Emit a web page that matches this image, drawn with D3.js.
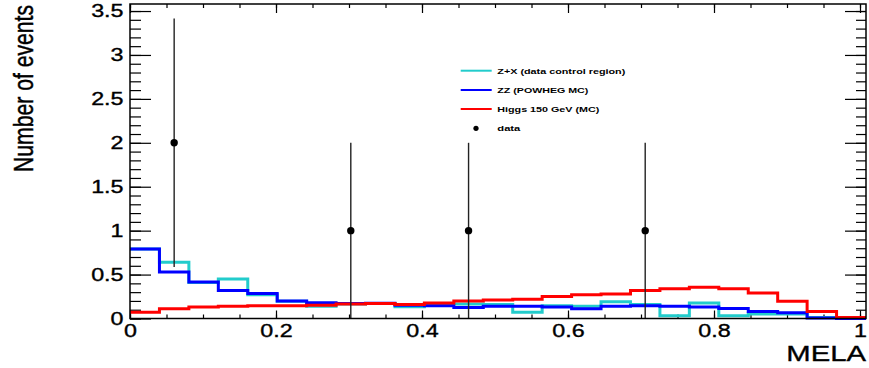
<!DOCTYPE html>
<html lang="en">
    <head>
        <meta charset="UTF-8">
        <title>MELA</title>
        <script src="https://d3js.org/d3.v7.min.js"></script>
        <style>
            body { margin: 0; background: #fff; }
            text { font-family: "Liberation Sans", Arial, sans-serif; fill: #000; }
            .heavy { stroke: #000; stroke-width: 0.35px; }
        </style>
    </head>
    <body>
        <script>
            // histogram bins (low edges, width 0.04)
            const binLow = [0, 0.04, 0.08, 0.12, 0.16, 0.2, 0.24, 0.28, 0.32, 0.36, 0.4, 0.44, 0.48,
                            0.52, 0.56, 0.6, 0.64, 0.68, 0.72, 0.76, 0.8, 0.84, 0.88, 0.92, 0.96];
            const zx = [0.79, 0.64, 0.41, 0.45, 0.27, 0.195, 0.14, 0.165, 0.17, 0.135, 0.17, 0.165, 0.16,
                        0.07, 0.145, 0.14, 0.19, 0.16, 0.03, 0.177, 0.03, 0.05, 0.05, 0.01, 0];
            const zz = [0.79, 0.53, 0.415, 0.32, 0.285, 0.2, 0.18, 0.17, 0.175, 0.15, 0.146, 0.125, 0.14,
                        0.14, 0.13, 0.11, 0.14, 0.145, 0.14, 0.13, 0.115, 0.08, 0.065, 0.005, 0];
            const higgs = [0.07, 0.11, 0.13, 0.14, 0.145, 0.145, 0.15, 0.165, 0.17, 0.16, 0.177, 0.2, 0.21,
                           0.22, 0.25, 0.27, 0.28, 0.32, 0.34, 0.355, 0.34, 0.29, 0.195, 0.08, 0.01];
            const dataX = [0.06, 0.30, 0.46, 0.70];
            const dataY = [2, 1, 1, 1];
            const dataErr = [1.414, 1, 1, 1];
            const xTicks = [0, 0.2, 0.4, 0.6, 0.8, 1];
            const yTicks = [0, 0.5, 1, 1.5, 2, 2.5, 3, 3.5];
            const legendLabels = ['Z+X (data control region)', 'ZZ (POWHEG MC)', 'Higgs 150 GeV (MC)', 'data'];
            const legendColors = ['#22cccc', '#0000ff', '#ff0000', '#000'];

            const w = 869;
            const h = 368;
            const pL = 130, pR = 866, pT = 4, pB = 318.5;
            const stretchK = 1.33;

            const svg = d3.select('body')
                          .append('svg')
                          .attr('width', w)
                          .attr('height', h)

            // text in the picture is stretched sideways
            function stretch(sel, k) {
                sel.each(function() {
                    const len = this.getComputedTextLength();
                    d3.select(this).attr('textLength', len * k).attr('lengthAdjust', 'spacingAndGlyphs')
                })
            }

            const xScale = d3.scaleLinear().domain([0, 1]).range([pL, pR]);
            // axis ticks sit slightly short of the frame end
            const xTickScale = d3.scaleLinear().domain([0, 1]).range([pL, 860]);
            const yScale = d3.scaleLinear().domain([0, 3.58]).range([pB, pT]);

            const minorX = d3.range(0, 21).map(i => i * 0.05);
            const minorY = d3.range(0, 36).map(i => i * 0.1);

            // x axis bottom
            svg.append('g')
               .attr('transform', 'translate(0,' + pB + ')')
               .call(d3.axisBottom(xTickScale).tickValues(minorX).tickSize(-4).tickFormat(''))
            const xAxis = svg.append('g')
                             .attr('transform', 'translate(0,' + pB + ')')
                             .call(d3.axisBottom(xTickScale).tickValues(xTicks).tickSize(-8).tickPadding(6)
                                     .tickFormat(d3.format('~g')))
            xAxis.selectAll('text').style('font-size', '17.5px').attr('class', 'heavy')
            // x axis top
            svg.append('g')
               .attr('transform', 'translate(0,' + pT + ')')
               .call(d3.axisTop(xTickScale).tickValues(minorX).tickSize(-4).tickFormat(''))
            svg.append('g')
               .attr('transform', 'translate(0,' + pT + ')')
               .call(d3.axisTop(xTickScale).tickValues(xTicks).tickSize(-9).tickFormat(''))

            // y axis left
            svg.append('g')
               .attr('transform', 'translate(' + pL + ',0)')
               .call(d3.axisLeft(yScale).tickValues(minorY).tickSize(-11).tickFormat(''))
            const yAxis = svg.append('g')
                             .attr('transform', 'translate(' + pL + ',0)')
                             .call(d3.axisLeft(yScale).tickValues(yTicks).tickSize(-21).tickPadding(6.5)
                                     .tickFormat(d3.format('~g')))
            yAxis.selectAll('text').style('font-size', '17.5px').attr('class', 'heavy')
            // y axis right
            svg.append('g')
               .attr('transform', 'translate(' + pR + ',0)')
               .call(d3.axisRight(yScale).tickValues(minorY).tickSize(-10).tickFormat(''))
            svg.append('g')
               .attr('transform', 'translate(' + pR + ',0)')
               .call(d3.axisRight(yScale).tickValues(yTicks).tickSize(-21).tickFormat(''))

            svg.selectAll('.domain').remove()
            svg.selectAll('.tick line').attr('stroke', '#000').attr('stroke-width', 1.2)
            stretch(svg.selectAll('.tick text'), stretchK)

            // histograms
            const step = d3.line()
                           .x(d => xScale(d[0]))
                           .y(d => yScale(d[1]))
                           .curve(d3.curveStepAfter)
            const hists = [[zx, legendColors[0]], [zz, legendColors[1]], [higgs, legendColors[2]]];
            hists.forEach(([vals, col]) => {
                const pts = binLow.map((x, i) => [x, vals[i]]);
                pts.push([1, vals[vals.length - 1]]);
                svg.append('path')
                   .attr('d', step(pts))
                   .attr('fill', 'none')
                   .attr('stroke', col)
                   .attr('stroke-width', 3)
            })

            // data points with error bars
            svg.selectAll('.err')
               .data(dataX)
               .enter()
               .append('line')
               .attr('x1', d => xScale(d))
               .attr('x2', d => xScale(d))
               .attr('y1', (d, i) => yScale(dataY[i] - dataErr[i]))
               .attr('y2', (d, i) => yScale(dataY[i] + dataErr[i]))
               .attr('stroke', '#222')
               .attr('stroke-width', 1.4)
            svg.selectAll('.pt')
               .data(dataX)
               .enter()
               .append('circle')
               .attr('cx', d => xScale(d))
               .attr('cy', (d, i) => yScale(dataY[i]))
               .attr('r', 3.7)
               .attr('fill', '#000')

            // frame
            svg.append('rect')
               .attr('x', pL)
               .attr('y', pT)
               .attr('width', pR - pL)
               .attr('height', pB - pT)
               .attr('fill', 'none')
               .attr('stroke', '#000')
               .attr('stroke-width', 1.5)

            // axis titles
            const mela = svg.append('text')
                            .attr('class', 'heavy')
                            .attr('x', pR)
                            .attr('y', 360.5)
                            .attr('text-anchor', 'end')
                            .style('font-size', '22px')
                            .text('MELA')
            stretch(mela, stretchK)
            svg.append('text')
               .attr('class', 'heavy')
               .attr('transform', 'translate(33,5) scale(1.3,1) rotate(-90)')
               .attr('text-anchor', 'end')
               .attr('textLength', 167)
               .attr('lengthAdjust', 'spacingAndGlyphs')
               .style('font-size', '21px')
               .text('Number of events')

            // legend
            const legY = [70.7, 90, 109, 128.3];
            const legLen = [128, 91, 102, 23];
            const legend = svg.append('g')
            legendLabels.forEach((lab, i) => {
                if (i < 3) {
                    legend.append('line')
                          .attr('x1', 460.7)
                          .attr('x2', 491.7)
                          .attr('y1', legY[i])
                          .attr('y2', legY[i])
                          .attr('stroke', legendColors[i])
                          .attr('stroke-width', 2)
                } else {
                    legend.append('circle')
                          .attr('cx', 476)
                          .attr('cy', legY[i])
                          .attr('r', 2.6)
                          .attr('fill', '#000')
                }
                legend.append('text')
                      .attr('x', 497.3)
                      .attr('y', legY[i] + 2.8)
                      .attr('textLength', legLen[i])
                      .attr('lengthAdjust', 'spacingAndGlyphs')
                      .style('font-size', '8px')
                      .style('font-weight', 'bold')
                      .text(lab)
            })
        </script>
    </body>
</html>
